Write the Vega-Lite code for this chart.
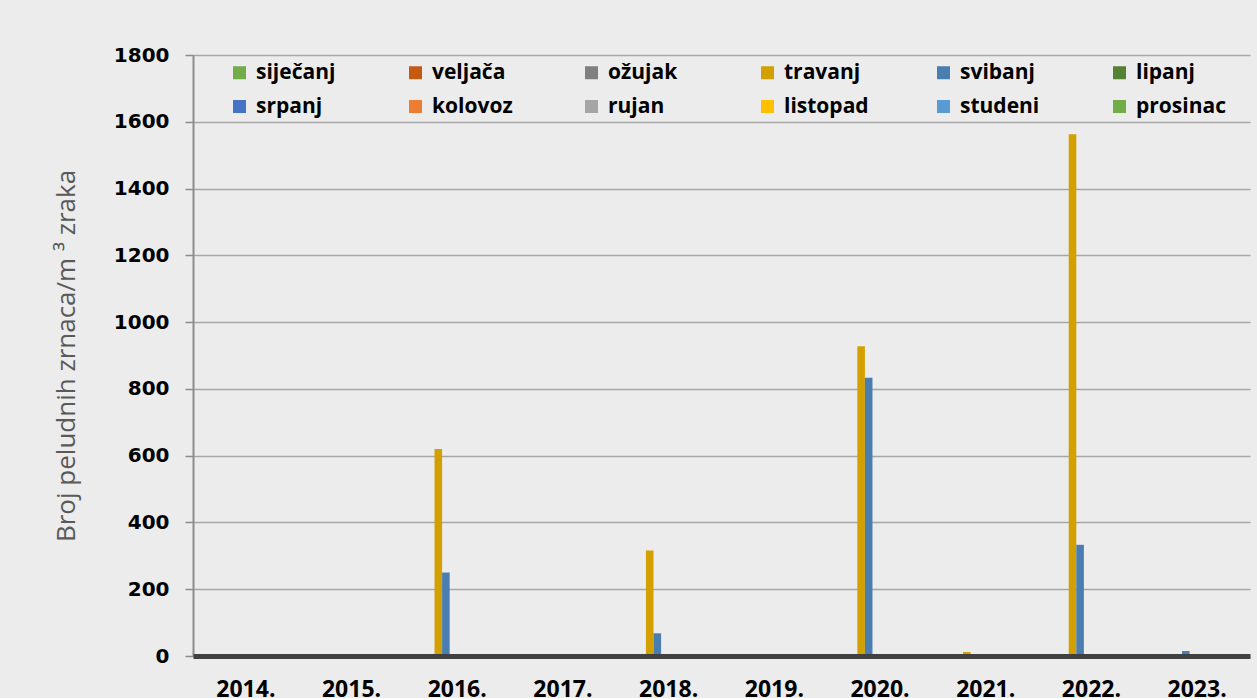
{
  "$schema": "https://vega.github.io/schema/vega-lite/v6.json",
  "width": 1057,
  "height": 601,
  "autosize": {"type": "none"},
  "padding": {"left": 193, "top": 55, "right": 7, "bottom": 42},
  "background": "#ececec",
  "config": {
    "view": {"stroke": null, "fill": "#ececec"},
    "axis": {"labelFont": "Open Sans", "titleFont": "Open Sans"}
  },
  "data": {
    "values": [
      {"godina": "2014.", "mjesec": "travanj", "vrijednost": 0},
      {"godina": "2014.", "mjesec": "svibanj", "vrijednost": 0},
      {"godina": "2015.", "mjesec": "travanj", "vrijednost": 0},
      {"godina": "2015.", "mjesec": "svibanj", "vrijednost": 0},
      {"godina": "2016.", "mjesec": "travanj", "vrijednost": 620},
      {"godina": "2016.", "mjesec": "svibanj", "vrijednost": 250},
      {"godina": "2017.", "mjesec": "travanj", "vrijednost": 0},
      {"godina": "2017.", "mjesec": "svibanj", "vrijednost": 0},
      {"godina": "2018.", "mjesec": "travanj", "vrijednost": 316},
      {"godina": "2018.", "mjesec": "svibanj", "vrijednost": 68},
      {"godina": "2019.", "mjesec": "travanj", "vrijednost": 0},
      {"godina": "2019.", "mjesec": "svibanj", "vrijednost": 0},
      {"godina": "2020.", "mjesec": "travanj", "vrijednost": 928},
      {"godina": "2020.", "mjesec": "svibanj", "vrijednost": 833},
      {"godina": "2021.", "mjesec": "travanj", "vrijednost": 12},
      {"godina": "2021.", "mjesec": "svibanj", "vrijednost": 0},
      {"godina": "2022.", "mjesec": "travanj", "vrijednost": 1563},
      {"godina": "2022.", "mjesec": "svibanj", "vrijednost": 333},
      {"godina": "2023.", "mjesec": "travanj", "vrijednost": 0},
      {"godina": "2023.", "mjesec": "svibanj", "vrijednost": 15}
    ]
  },
  "mark": {"type": "bar"},
  "encoding": {
    "x": {
      "field": "godina",
      "type": "nominal",
      "sort": null,
      "scale": {
        "domain": ["2014.", "2015.", "2016.", "2017.", "2018.", "2019.", "2020.", "2021.", "2022.", "2023."],
        "paddingInner": 0.14,
        "paddingOuter": 0.07
      },
      "axis": {
        "title": null,
        "labelAngle": 0,
        "labelFont": "Open Sans",
        "labelFontWeight": 700,
        "labelFontSize": 23,
        "labelColor": "#000000",
        "labelPadding": 22,
        "ticks": false,
        "domainColor": "#404040",
        "domainWidth": 5,
        "grid": false,
        "zindex": 1
      }
    },
    "xOffset": {
      "field": "mjesec",
      "type": "nominal",
      "scale": {
        "domain": ["siječanj", "veljača", "ožujak", "travanj", "svibanj", "lipanj", "srpanj", "kolovoz", "rujan", "listopad", "studeni", "prosinac"],
        "paddingInner": 0,
        "paddingOuter": 0
      }
    },
    "y": {
      "field": "vrijednost",
      "type": "quantitative",
      "scale": {"domain": [0, 1800], "nice": false},
      "axis": {
        "title": "Broj peludnih zrnaca/m ³ zraka",
        "titleFont": "Open Sans",
        "titleFontWeight": 400,
        "titleFontSize": 26,
        "titleColor": "#595959",
        "titlePadding": 34,
        "values": [0, 200, 400, 600, 800, 1000, 1200, 1400, 1600, 1800],
        "format": "d",
        "labelFont": "DejaVu Sans",
        "labelFontWeight": 700,
        "labelFontSize": 20,
        "labelColor": "#000000",
        "labelPadding": 16,
        "tickSize": 8,
        "tickColor": "#8c8c8c",
        "tickWidth": 1.5,
        "domainColor": "#8c8c8c",
        "domainWidth": 2,
        "gridColor": "#a6a6a6",
        "gridWidth": 1.5
      }
    },
    "color": {
      "field": "mjesec",
      "type": "nominal",
      "scale": {
        "domain": ["siječanj", "veljača", "ožujak", "travanj", "svibanj", "lipanj", "srpanj", "kolovoz", "rujan", "listopad", "studeni", "prosinac"],
        "range": ["#70ad47", "#c55a11", "#7f7f7f", "#d4a000", "#4a7eb0", "#548235", "#4472c4", "#ed7d31", "#a5a5a5", "#ffc000", "#5b9bd5", "#70ad47"]
      },
      "legend": {
        "title": null,
        "orient": "none",
        "legendX": 36,
        "legendY": 7,
        "direction": "horizontal",
        "columns": 6,
        "gridAlign": "all",
        "columnPadding": 59,
        "rowPadding": 12,
        "padding": 0,
        "symbolType": "square",
        "symbolSize": 169,
        "symbolStrokeWidth": 0,
        "labelFont": "Open Sans",
        "labelFontWeight": 700,
        "labelFontSize": 21,
        "labelColor": "#000000",
        "labelOffset": 6,
        "labelLimit": 200
      }
    }
  }
}
